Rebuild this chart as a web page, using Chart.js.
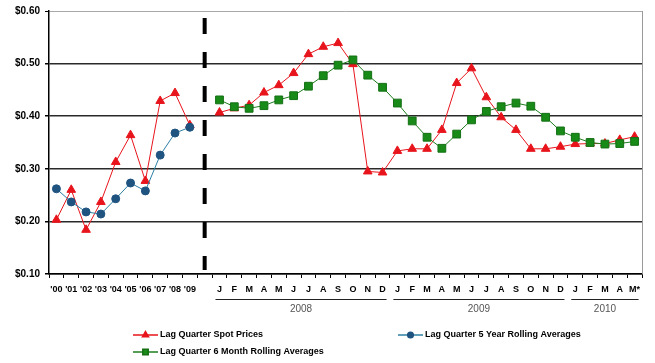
<!DOCTYPE html>
<html>
<head>
<meta charset="utf-8">
<title>Lag Quarter Prices</title>
<script src="https://cdn.jsdelivr.net/npm/chart.js@4.4.1/dist/chart.umd.min.js"></script>
<style>
  html, body { margin: 0; padding: 0; background: #ffffff; }
  #wrap { width: 655px; height: 363px; position: relative; }
</style>
</head>
<body>
<div id="wrap"><canvas id="priceChart"></canvas></div>
<script>
// Annual points first, then one empty slot where the dashed divider sits, then monthly points
const yearLabels = ["'00", "'01", "'02", "'03", "'04", "'05", "'06", "'07", "'08", "'09"];
const monthLabels = [
    'J', 'F', 'M', 'A', 'M', 'J', 'J', 'A', 'S', 'O', 'N', 'D',
    'J', 'F', 'M', 'A', 'M', 'J', 'J', 'A', 'S', 'O', 'N', 'D',
    'J', 'F', 'M', 'A', 'M*'
];
const yearGroups = ['2008', '2009', '2010'];
const yearGroupSizes = [12, 12, 5];

// Lag quarter spot prices ($)
const spotAnnual = [0.203, 0.260, 0.184, 0.237, 0.313, 0.364, 0.277, 0.429, 0.444, 0.383];
const spotMonthly = [
    0.407, 0.415, 0.421, 0.445, 0.459, 0.482, 0.518, 0.532, 0.539, 0.499, 0.295, 0.293,
    0.334, 0.338, 0.338, 0.374, 0.463, 0.491, 0.436, 0.398, 0.374, 0.338, 0.338, 0.342,
    0.347, 0.348, 0.348, 0.355, 0.361
];
// Lag quarter 5 year rolling averages ($), annual only
const fiveYearAnnual = [0.262, 0.237, 0.218, 0.214, 0.243, 0.273, 0.258, 0.326, 0.368, 0.379];
// Lag quarter 6 month rolling averages ($), monthly only
const sixMonthMonthly = [
    0.431, 0.418, 0.415, 0.420, 0.431, 0.439, 0.457, 0.477, 0.497, 0.507, 0.478, 0.455,
    0.425, 0.391, 0.360, 0.339, 0.366, 0.393, 0.409, 0.418, 0.425, 0.419, 0.398, 0.372,
    0.360, 0.350, 0.347, 0.348, 0.352
];

const yTicks = [0.10, 0.20, 0.30, 0.40, 0.50, 0.60];

const dividerIndex = yearLabels.length; // the empty slot
const labels = [...yearLabels, '', ...monthLabels];
const noAnnual = yearLabels.map(() => null);
const noMonthly = monthLabels.map(() => null);

const fontFamily = '"Liberation Sans", Arial, sans-serif';

// Dashed divider, plot frame, year brackets and the legend are drawn here
const decorations = {
    id: 'decorations',
    beforeDatasetsDraw(chart) {
        const { ctx, chartArea } = chart;
        const x = chart.scales.x.getPixelForValue(dividerIndex);
        ctx.save();
        ctx.strokeStyle = '#000000';
        ctx.lineWidth = 4;
        ctx.setLineDash([16, 18]);
        ctx.beginPath();
        ctx.moveTo(x, chartArea.top + 7);
        ctx.lineTo(x, chartArea.bottom - 4);
        ctx.stroke();
        ctx.restore();
    },
    afterDraw(chart) {
        const { ctx, chartArea } = chart;
        const xs = chart.scales.x;
        ctx.save();

        // right frame edge
        ctx.strokeStyle = '#9a9a9a';
        ctx.lineWidth = 1;
        ctx.beginPath();
        ctx.moveTo(chartArea.right + 0.5, chartArea.top);
        ctx.lineTo(chartArea.right + 0.5, chartArea.bottom);
        ctx.stroke();

        // year brackets under the month letters
        let start = dividerIndex + 1;
        yearGroups.forEach((year, i) => {
            const end = start + yearGroupSizes[i] - 1;
            const x0 = xs.getPixelForValue(start) - 4;
            const x1 = xs.getPixelForValue(end) + 4;
            ctx.strokeStyle = '#222222';
            ctx.lineWidth = 1;
            ctx.beginPath();
            ctx.moveTo(x0, 299.5);
            ctx.lineTo(x1, 299.5);
            ctx.stroke();
            ctx.fillStyle = '#555555';
            ctx.font = '10px ' + fontFamily;
            ctx.textAlign = 'center';
            ctx.textBaseline = 'middle';
            ctx.fillText(year, (x0 + x1) / 2, 309);
            start = end + 1;
        });

        // legend: two entries on the first row, one on the second
        const spots = [[133, 335], [398, 335], [133, 352]];
        chart.data.datasets.forEach((ds, i) => {
            const [lx, ly] = spots[i];
            ctx.strokeStyle = ds.borderColor;
            ctx.lineWidth = 1.5;
            ctx.beginPath();
            ctx.moveTo(lx, ly);
            ctx.lineTo(lx + 25, ly);
            ctx.stroke();
            ctx.fillStyle = ds.backgroundColor;
            ctx.strokeStyle = ds.pointBorderColor || ds.borderColor;
            Chart.helpers.drawPoint(ctx, {
                pointStyle: ds.pointStyle,
                radius: ds.pointRadius * 0.7,
                rotation: 0,
                borderWidth: 1
            }, lx + 12.5, ly);
            ctx.fillStyle = '#000000';
            ctx.font = 'bold 9px ' + fontFamily;
            ctx.textAlign = 'left';
            ctx.textBaseline = 'middle';
            ctx.fillText(ds.label, lx + 27, ly);
        });
        ctx.restore();
    }
};

function initPriceChart(ctxId) {
    const ctx = document.getElementById(ctxId)?.getContext('2d');
    if (!ctx) {
        console.warn(`Canvas '${ctxId}' not found.`);
        return null;
    }
    return new Chart(ctx, {
        type: 'line',
        data: {
            labels: labels,
            datasets: [
                {
                    label: 'Lag Quarter Spot Prices',
                    data: [...spotAnnual, null, ...spotMonthly],
                    borderColor: '#e8141c',
                    backgroundColor: '#e8141c',
                    borderWidth: 1,
                    pointStyle: 'triangle',
                    pointRadius: 5,
                    pointBorderWidth: 1,
                    order: 3
                },
                {
                    label: 'Lag Quarter 5 Year Rolling Averages',
                    data: [...fiveYearAnnual, null, ...noMonthly],
                    borderColor: '#2c7fa3',
                    backgroundColor: '#1f5380',
                    pointBorderColor: '#1f5380',
                    borderWidth: 1,
                    pointStyle: 'circle',
                    pointRadius: 4,
                    pointBorderWidth: 1,
                    order: 1
                },
                {
                    label: 'Lag Quarter 6 Month Rolling Averages',
                    data: [...noAnnual, null, ...sixMonthMonthly],
                    borderColor: '#1e7d1e',
                    backgroundColor: '#178a17',
                    pointBorderColor: '#157015',
                    borderWidth: 1,
                    pointStyle: 'rect',
                    pointRadius: 5.5,
                    pointBorderWidth: 1,
                    order: 2
                }
            ]
        },
        options: {
            responsive: true,
            maintainAspectRatio: false,
            animation: false,
            spanGaps: false,
            layout: { padding: { top: 11, right: 13, left: 0, bottom: 0 } },
            scales: {
                x: {
                    type: 'category',
                    offset: true,
                    afterFit(scale) { scale.height = 89; },
                    grid: {
                        offset: true,
                        drawOnChartArea: false,
                        drawTicks: true,
                        tickLength: 4,
                        color: '#000000'
                    },
                    border: { color: '#000000', width: 1.5 },
                    ticks: {
                        autoSkip: false,
                        maxRotation: 0,
                        minRotation: 0,
                        padding: 6,
                        color: '#000000',
                        font: { family: fontFamily, size: 9, weight: 'bold' }
                    }
                },
                y: {
                    min: yTicks[0],
                    max: yTicks[yTicks.length - 1],
                    afterFit(scale) { scale.width = 49; },
                    afterBuildTicks(scale) {
                        scale.ticks = yTicks.map(v => ({ value: v }));
                    },
                    grid: {
                        color: c => (c.tick && Math.abs(c.tick.value - 0.6) < 1e-6) ? '#a8a8a8' : '#2a2a2a',
                        lineWidth: c => (c.tick && Math.abs(c.tick.value - 0.6) < 1e-6) ? 1 : 1.5,
                        tickLength: 4,
                        tickColor: '#000000'
                    },
                    border: { color: '#000000', width: 1.5 },
                    ticks: {
                        padding: 5,
                        color: '#000000',
                        font: { family: fontFamily, size: 10, weight: 'bold' },
                        callback: v => '$' + Number(v).toFixed(2)
                    }
                }
            },
            plugins: {
                legend: { display: false },
                tooltip: { enabled: false }
            }
        },
        plugins: [decorations]
    });
}

initPriceChart('priceChart');
</script>
</body>
</html>
